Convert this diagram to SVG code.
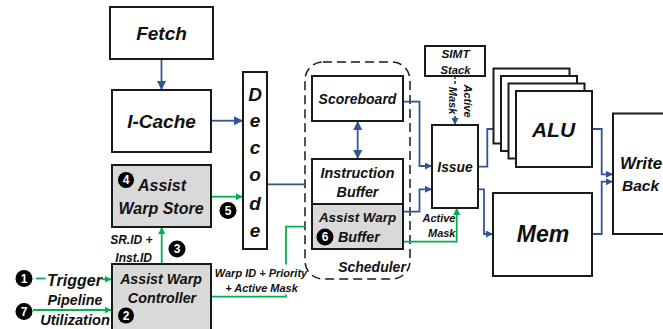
<svg xmlns="http://www.w3.org/2000/svg" width="663" height="329" viewBox="0 0 663 329">
<style>
.box{fill:#ffffff;stroke:#1a1a1a;stroke-width:2}
.gray{fill:#d9d9d9;stroke:#1a1a1a;stroke-width:2}
.t{font-family:"Liberation Sans",Arial,sans-serif;font-weight:bold;font-style:italic;fill:#111;text-anchor:middle}
.s{text-anchor:start}
.e{text-anchor:end}
.blue{fill:none;stroke:#2f5597;stroke-width:1.8}
.green{fill:none;stroke:#00b050;stroke-width:1.8}
.num{fill:#000}
.nt{font-family:"Liberation Sans",Arial,sans-serif;font-weight:bold;font-size:12px;fill:#fff;text-anchor:middle}
</style>
<defs>
<marker id="ab" viewBox="0 0 10 10" refX="10" refY="5" markerWidth="9" markerHeight="9" markerUnits="userSpaceOnUse" orient="auto-start-reverse"><path d="M0,0 L10,5 L0,10 z" fill="#2f5597"/></marker>
<marker id="abs" viewBox="0 0 10 10" refX="10" refY="5" markerWidth="7" markerHeight="7" markerUnits="userSpaceOnUse" orient="auto-start-reverse"><path d="M0,0 L10,5 L0,10 z" fill="#2f5597"/></marker>
<marker id="ag" viewBox="0 0 10 10" refX="10" refY="5" markerWidth="7" markerHeight="7" markerUnits="userSpaceOnUse" orient="auto"><path d="M0,0 L10,5 L0,10 z" fill="#00b050"/></marker>
</defs>
<rect width="663" height="329" fill="#ffffff"/>

<g id="scheduler">
<rect x="305" y="62" width="105" height="217" rx="18" fill="none" stroke="#1a1a1a" stroke-width="1.5" stroke-dasharray="9,5"/>
<text class="t" x="372" y="271.5" font-size="14">Scheduler</text>
</g>

<g id="connectors">
<path class="blue" d="M161.5,59 V90" marker-end="url(#ab)"/>
<path class="blue" d="M211,120.7 H243" marker-end="url(#ab)"/>
<path class="blue" d="M267,184.3 H305"/>
<path class="green" d="M211,196.7 H243" marker-end="url(#ag)"/>
<path class="green" d="M161.7,264 V227" marker-end="url(#ag)"/>
<path class="green" d="M36,278.5 H45.7"/>
<path class="green" d="M101.5,279.3 H111.5" marker-end="url(#ag)"/>
<path class="green" d="M33,310 H111.5" marker-end="url(#ag)"/>
<path class="green" d="M211,296.7 H286 V226.7 H305"/>
<path class="blue" d="M357.7,121 V159" marker-start="url(#ab)" marker-end="url(#ab)"/>
<path class="blue" d="M403,101.7 H419.5 V166 H432" marker-end="url(#abs)"/>
<path class="blue" d="M403,211.7 H419.5 V189.3 H432" marker-end="url(#abs)"/>
<path class="green" d="M403,241.7 H456.7 V208" marker-end="url(#ag)"/>
<path class="blue" d="M455,76 V125" stroke-dasharray="3,2" marker-end="url(#abs)"/>
<path class="blue" d="M478,166.7 H487.3 V129 H516" marker-end="url(#abs)"/>
<path class="blue" d="M478,189.3 H484 V234 H493" marker-end="url(#abs)"/>
<path class="blue" d="M592,129 H601.7 V174.3 H613" marker-end="url(#abs)"/>
<path class="blue" d="M592,234 H601.7 V181.7 H613" marker-end="url(#abs)"/>
</g>

<g id="labels">
<rect x="213" y="264.5" width="88" height="30" fill="#ffffff"/>
<text class="t" x="261" y="276.5" font-size="11">Warp ID + Priority</text>
<text class="t" x="261.5" y="292" font-size="11">+ Active Mask</text>
<text class="t e" x="152.5" y="243.5" font-size="12">SR.ID +</text>
<text class="t e" x="152" y="261.5" font-size="12">Inst.ID</text>
<text class="t" x="74.5" y="286" font-size="16">Trigger</text>
<text class="t" x="75" y="305" font-size="14.3">Pipeline</text>
<text class="t" x="75" y="325" font-size="14.6">Utilization</text>
<text class="t e" x="455.5" y="222" font-size="11">Active</text>
<text class="t e" x="455.5" y="236.5" font-size="11">Mask</text>
<rect x="448" y="86" width="11" height="29" fill="#ffffff"/>
<text class="t" transform="translate(463.6,101) rotate(90)" font-size="11">Active</text>
<text class="t" transform="translate(449.2,100.5) rotate(90)" font-size="11">Mask</text>
</g>

<g id="fetch">
<rect class="box" x="110" y="7" width="103" height="52"/>
<text class="t" x="161.5" y="40" font-size="19">Fetch</text>
</g>

<g id="icache">
<rect class="box" x="112" y="90" width="99" height="62"/>
<text class="t" x="161.5" y="127.5" font-size="19">I-Cache</text>
</g>

<g id="decode">
<rect class="box" x="243" y="72" width="24" height="177"/>
<text class="t" x="255" y="101" font-size="19">D</text>
<text class="t" x="255" y="127" font-size="19">e</text>
<text class="t" x="255" y="154" font-size="19">c</text>
<text class="t" x="255" y="181" font-size="19">o</text>
<text class="t" x="255" y="210" font-size="19">d</text>
<text class="t" x="255" y="236.5" font-size="19">e</text>
</g>

<g id="assist-warp-store">
<rect class="gray" x="112" y="165" width="99" height="62"/>
<circle class="num" cx="126" cy="180" r="8"/>
<text class="nt" x="126" y="184.3">4</text>
<text class="t s" x="138" y="191" font-size="16">Assist</text>
<text class="t" x="161" y="214" font-size="16">Warp Store</text>
</g>

<g id="assist-warp-controller">
<rect class="gray" x="112" y="264" width="99" height="70"/>
<text class="t" x="161" y="284" font-size="14.2">Assist Warp</text>
<text class="t" x="162" y="303" font-size="14.3">Controller</text>
<circle class="num" cx="126" cy="315.5" r="8"/>
<text class="nt" x="126" y="319.8">2</text>
</g>

<g id="markers-numbers">
<circle class="num" cx="24" cy="278.5" r="8.5"/>
<text class="nt" x="24" y="282.8">1</text>
<circle class="num" cx="24" cy="311.5" r="8.5"/>
<text class="nt" x="24" y="315.8">7</text>
<circle class="num" cx="177" cy="249" r="8.5"/>
<text class="nt" x="177" y="253.3">3</text>
<circle class="num" cx="228" cy="210.5" r="8.5"/>
<text class="nt" x="228" y="214.8">5</text>
</g>

<g id="scoreboard">
<rect class="box" x="312" y="76" width="91" height="45"/>
<text class="t" x="357.5" y="104.3" font-size="14">Scoreboard</text>
</g>

<g id="instruction-buffer">
<rect class="box" x="312" y="159" width="91" height="45"/>
<text class="t" x="357.5" y="177.5" font-size="14.3">Instruction</text>
<text class="t" x="357.5" y="197" font-size="14.3">Buffer</text>
</g>

<g id="assist-warp-buffer">
<rect class="gray" x="312" y="204" width="91" height="45"/>
<text class="t" x="357.5" y="222" font-size="13.4">Assist Warp</text>
<circle class="num" cx="325" cy="237" r="8.5"/>
<text class="nt" x="325" y="241.3">6</text>
<text class="t s" x="338" y="241.5" font-size="14.3">Buffer</text>
</g>

<g id="simt-stack">
<rect class="box" x="425" y="46" width="60" height="30"/>
<text class="t" x="455.5" y="57.5" font-size="11.8">SIMT</text>
<text class="t" x="455.5" y="73.5" font-size="11.3">Stack</text>
</g>

<g id="issue">
<rect class="box" x="432" y="125" width="46" height="83"/>
<text class="t" x="455" y="171.5" font-size="13.8">Issue</text>
</g>

<g id="alu">
<rect class="box" x="493.5" y="68.5" width="76" height="75"/>
<rect class="box" x="501" y="76" width="76" height="75"/>
<rect class="box" x="508.5" y="83.5" width="76" height="75"/>
<rect class="box" x="516" y="91" width="76" height="76"/>
<text class="t" x="553.5" y="137" font-size="21">ALU</text>
</g>

<g id="mem">
<rect class="box" x="493" y="193" width="99" height="83"/>
<text class="t" x="543" y="242" font-size="23">Mem</text>
</g>

<g id="write-back">
<rect class="box" x="613" y="113.5" width="60" height="120.5"/>
<text class="t" x="641" y="169" font-size="17">Write</text>
<text class="t" x="640.5" y="190.5" font-size="15.5">Back</text>
</g>
</svg>
